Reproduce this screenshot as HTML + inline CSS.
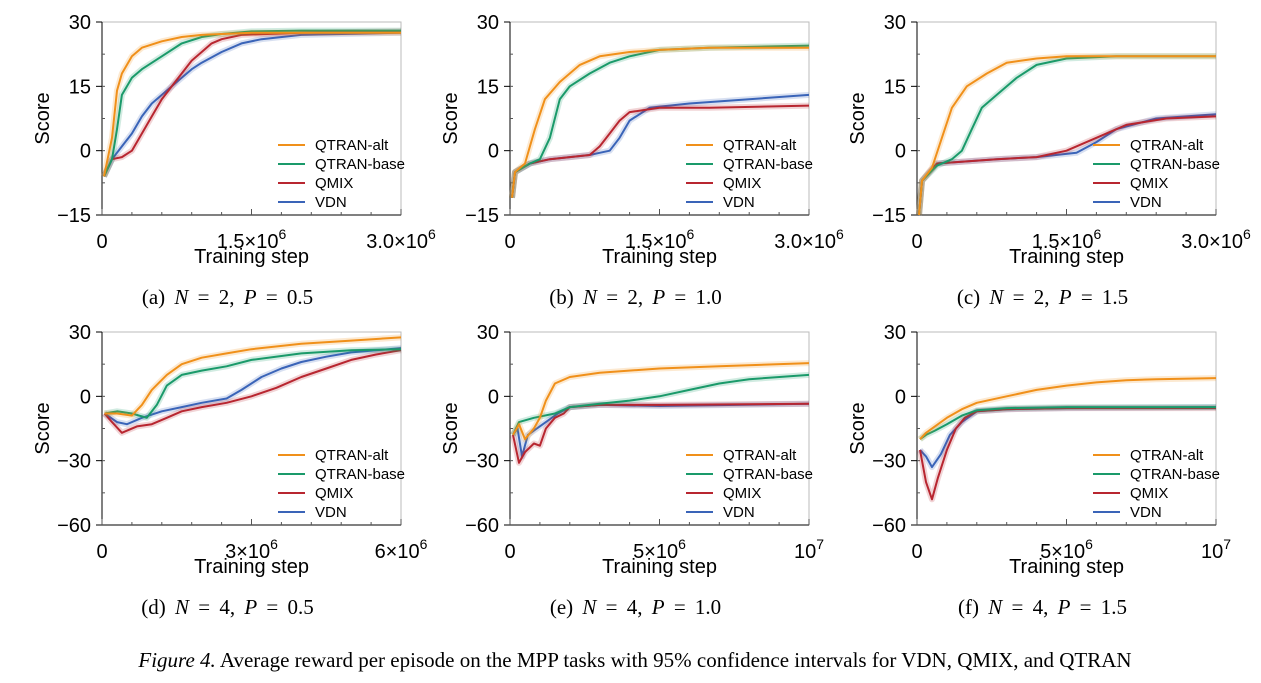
<!DOCTYPE html>
<html><head><meta charset="utf-8"><style>
body{margin:0;background:#fff;width:1261px;height:683px;overflow:hidden}
svg{display:block}
text{font-family:"Liberation Sans",sans-serif}
.cap{font-family:"Liberation Serif",serif;font-size:21px}
</style></head><body>
<svg id="fig" width="1261" height="683"></svg>
<script>
const seriesNames=["QTRAN-alt","QTRAN-base","QMIX","VDN"];
const colors=["#f0901a","#1a9a6a","#b82630","#3a64b8"];
const aAlt=[[0.02,-6],[0.1,3],[0.15,14],[0.2,18],[0.3,22],[0.4,24],[0.6,25.5],[0.8,26.5],[1.0,27],[1.5,27.5],[2,27.5],[3,27.5]];
const aBase=[[0.02,-6],[0.1,-2],[0.15,5],[0.2,13],[0.3,17],[0.4,19],[0.6,22],[0.8,25],[1.0,26.5],[1.2,27.2],[1.5,27.8],[2,28],[3,28]];
const aQmix=[[0.02,-6],[0.1,-2],[0.2,-1.5],[0.3,0],[0.4,4],[0.5,8],[0.6,12],[0.7,15],[0.8,18],[0.9,21],[1.0,23],[1.1,25],[1.2,26],[1.4,27],[2,27.5],[3,27.8]];
const aVdn=[[0.02,-6],[0.1,-2],[0.2,1],[0.3,4],[0.4,8],[0.5,11],[0.6,13],[0.7,15],[0.8,17],[0.9,19],[1.0,20.5],[1.2,23],[1.4,25],[1.6,26],[2,27],[3,27.5]];
const bAlt=[[0.02,-11],[0.05,-5],[0.15,-3],[0.25,5],[0.35,12],[0.5,16],[0.7,20],[0.9,22],[1.2,23],[1.5,23.5],[2,24],[3,24]];
const bBase=[[0.02,-11],[0.05,-5],[0.2,-3],[0.3,-2],[0.4,3],[0.5,12],[0.6,15],[0.8,18],[1.0,20.5],[1.2,22],[1.5,23.5],[2,24],[3,24.5]];
const bQmix=[[0.02,-11],[0.05,-5],[0.2,-3],[0.4,-2],[0.6,-1.5],[0.8,-1],[0.9,1],[1.0,4],[1.1,7],[1.2,9],[1.5,10],[2,10],[3,10.5]];
const bVdn=[[0.02,-11],[0.05,-5],[0.2,-3],[0.4,-2],[0.6,-1.5],[0.8,-1],[0.9,-0.5],[1.0,0],[1.1,3],[1.2,7],[1.4,10],[1.8,11],[2.4,12],[3,13]];
const cAlt=[[0.02,-15],[0.05,-7],[0.15,-4],[0.25,3],[0.35,10],[0.5,15],[0.7,18],[0.9,20.5],[1.2,21.5],[1.5,22],[2,22],[3,22]];
const cBase=[[0.02,-15],[0.05,-7],[0.2,-3.5],[0.35,-2],[0.45,0],[0.55,5],[0.65,10],[0.8,13],[1.0,17],[1.2,20],[1.5,21.5],[2,22],[3,22]];
const cQmix=[[0.02,-15],[0.05,-7],[0.2,-3],[0.5,-2.5],[0.8,-2],[1.2,-1.5],[1.5,0],[1.8,3],[2.1,6],[2.5,7.5],[3,8]];
const cVdn=[[0.02,-15],[0.05,-7],[0.2,-3],[0.5,-2.5],[0.8,-2],[1.2,-1.5],[1.6,-0.5],[1.8,2],[2.0,5],[2.4,7.5],[3,8.5]];
const dAlt=[[0.05,-8],[0.3,-8],[0.6,-9],[0.8,-4],[1.0,3],[1.3,10],[1.6,15],[2,18],[2.5,20],[3,22],[4,24.5],[5,26],[6,27.5]];
const dBase=[[0.05,-8],[0.3,-7],[0.6,-8],[0.9,-10],[1.1,-4],[1.3,5],[1.6,10],[2,12],[2.5,14],[3,17],[4,20],[5,21.5],[6,22]];
const dQmix=[[0.05,-8],[0.2,-12],[0.4,-17],[0.7,-14],[1.0,-13],[1.3,-10],[1.6,-7],[2,-5],[2.5,-3],[3,0],[3.5,4],[4,9],[4.5,13],[5,17],[5.5,19.5],[6,21.5]];
const dVdn=[[0.05,-8],[0.3,-12],[0.5,-13],[0.8,-10],[1.2,-7],[1.6,-5],[2,-3],[2.5,-1],[2.8,3],[3.2,9],[3.6,13],[4,16],[4.5,18.5],[5,20.5],[6,22.5]];
const eAlt=[[0.1,-18],[0.3,-13],[0.5,-20],[0.8,-15],[1.0,-10],[1.2,-2],[1.5,6],[2,9],[3,11],[5,13],[7,14],[10,15.5]];
const eBase=[[0.1,-18],[0.3,-12],[0.8,-10],[1.5,-8],[2,-5],[3,-3.5],[4,-2],[5,0],[6,3],[7,6],[8,8],[10,10]];
const eQmix=[[0.1,-18],[0.3,-31],[0.5,-26],[0.8,-22],[1.0,-23],[1.2,-15],[1.5,-10],[1.8,-8],[2,-5],[3,-4],[5,-4],[10,-3.5]];
const eVdn=[[0.1,-18],[0.25,-15],[0.4,-28],[0.6,-18],[0.8,-16],[1.2,-12],[1.6,-8],[2,-5],[3,-4],[5,-4.5],[10,-3.5]];
const fAlt=[[0.1,-20],[0.3,-17],[0.6,-14],[1,-10],[1.5,-6],[2,-3],[3,0],[4,3],[5,5],[6,6.5],[7,7.5],[8,8],[10,8.5]];
const fBase=[[0.1,-20],[0.3,-18],[0.6,-16],[1,-13],[1.5,-9],[2,-6.5],[3,-5.5],[5,-5],[10,-5]];
const fQmix=[[0.1,-25],[0.3,-40],[0.5,-48],[0.7,-38],[1,-25],[1.3,-15],[1.6,-10],[2,-7],[3,-6],[5,-5.5],[10,-5.5]];
const fVdn=[[0.1,-25],[0.3,-28],[0.5,-33],[0.8,-27],[1.1,-18],[1.5,-12],[2,-7],[3,-6],[5,-5.5],[10,-5]];
const topYTicks=[30,15,0,-15];
const botYTicks=[30,0,-30,-60];
const xTicksA=[["0",""],["1.5×10","6"],["3.0×10","6"]];
const xTicksD=[["0",""],["3×10","6"],["6×10","6"]];
const xTicksE=[["0",""],["5×10","6"],["10","7"]];
const captions=[["a","2","0.5"],["b","2","1.0"],["c","2","1.5"],["d","4","0.5"],["e","4","1.0"],["f","4","1.5"]];
const panels=[
 {id:"a",L:102,T:22,xmax:3,ymin:-15,ymax:30,yt:topYTicks,xt:xTicksA,s:[aAlt,aBase,aQmix,aVdn]},
 {id:"b",L:510,T:22,xmax:3,ymin:-15,ymax:30,yt:topYTicks,xt:xTicksA,s:[bAlt,bBase,bQmix,bVdn]},
 {id:"c",L:917,T:22,xmax:3,ymin:-15,ymax:30,yt:topYTicks,xt:xTicksA,s:[cAlt,cBase,cQmix,cVdn]},
 {id:"d",L:102,T:332,xmax:6,ymin:-60,ymax:30,yt:botYTicks,xt:xTicksD,s:[dAlt,dBase,dQmix,dVdn]},
 {id:"e",L:510,T:332,xmax:10,ymin:-60,ymax:30,yt:botYTicks,xt:xTicksE,s:[eAlt,eBase,eQmix,eVdn]},
 {id:"f",L:917,T:332,xmax:10,ymin:-60,ymax:30,yt:botYTicks,xt:xTicksE,s:[fAlt,fBase,fQmix,fVdn]}];
const NS="http://www.w3.org/2000/svg";
const fig=document.getElementById("fig");
function mk(tag,attrs,parent,txt){const e=document.createElementNS(NS,tag);for(const k in attrs)e.setAttribute(k,attrs[k]);if(txt!==undefined)e.textContent=txt;parent.appendChild(e);return e;}
const W=299,H=193;
panels.forEach((p,pi)=>{
 const g=mk("g",{},fig);
 
 
 const xs=v=>p.L+v/p.xmax*W;
 const ys=v=>p.T+(p.ymax-v)/(p.ymax-p.ymin)*H;
 mk("rect",{x:p.L,y:p.T,width:W,height:H,fill:"none",stroke:"#bbb","stroke-width":1},g);
 mk("line",{x1:p.L,y1:p.T,x2:p.L,y2:p.T+H,stroke:"#000","stroke-width":1},g);
 mk("line",{x1:p.L,y1:p.T+H,x2:p.L+W,y2:p.T+H,stroke:"#000","stroke-width":1},g);
 p.yt.forEach(v=>{const y=ys(v);mk("line",{x1:p.L-6,y1:y,x2:p.L,y2:y,stroke:"#000"},g);
  const t=mk("text",{x:p.L-11,y:y+7,"text-anchor":"end","font-size":20},g,String(v).replace("-","−"));
  });
 for(let i=0;i<=10;i++){const x=p.L+i*W/10;mk("line",{x1:x,y1:p.T+H,x2:x,y2:p.T+H-(i%5?3:6),stroke:"#555"},g);}
 for(let i=1;i<6;i++){const y=p.T+i*H/6;mk("line",{x1:p.L,y1:y,x2:p.L+3,y2:y,stroke:"#555"},g);}
 p.xt.forEach((lab,i)=>{const t=mk("text",{x:p.L+i*W/2,y:p.T+H+33,"text-anchor":"middle","font-size":20},g,lab[0]);
  if(lab[1]){mk("tspan",{dy:-9,"font-size":14},t,lab[1]);}
  });
 const xl=mk("text",{x:p.L+W/2,y:p.T+H+48,"text-anchor":"middle","font-size":20},g,"Training step");
 
 const yl=mk("text",{x:0,y:0,"text-anchor":"middle","font-size":20,transform:`translate(${p.L-53},${p.T+H/2}) rotate(-90)`},g,"Score");
 
 [3,2,1,0].forEach(si=>{const d=p.s[si].map((q,i)=>(i?"L":"M")+xs(q[0]).toFixed(1)+","+ys(q[1]).toFixed(1)).join("");
  const band=mk("path",{d:d,fill:"none",stroke:colors[si],"stroke-opacity":0.2,"stroke-width":6,"stroke-linejoin":"round"},g);
  
  const ln=mk("path",{d:d,fill:"none",stroke:colors[si],"stroke-width":2,"stroke-linejoin":"round"},g);
  });
 const lg=mk("g",{},g);
 
 seriesNames.forEach((n,i)=>{const y=p.T+123+i*19;
  mk("line",{x1:p.L+176,y1:y,x2:p.L+203,y2:y,stroke:colors[i],"stroke-width":2},lg);
  const t=mk("text",{x:p.L+213,y:y+5,"font-size":15},lg,n);
  });
 const cp=captions[pi];
 const c=mk("text",{x:p.L+W/2-24,y:p.T+H+89,"text-anchor":"middle",class:"cap"},g);
 c.innerHTML=`(${cp[0]}) <tspan font-style="italic">N</tspan> = ${cp[1]}, <tspan font-style="italic">P</tspan> = ${cp[2]}`;
 c.setAttribute('word-spacing','4');
 
});
const fc=mk("text",{x:635,y:667,"text-anchor":"middle",class:"cap","font-size":21},fig);
fc.innerHTML='<tspan font-style="italic">Figure 4.</tspan> Average reward per episode on the MPP tasks with 95% confidence intervals for VDN, QMIX, and QTRAN';


</script>
</body></html>
